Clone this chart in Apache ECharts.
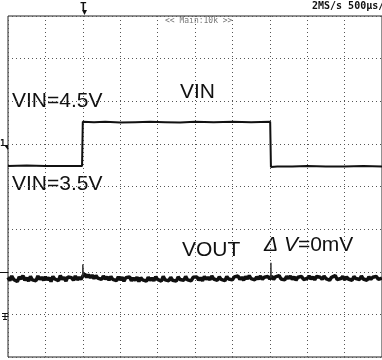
<!DOCTYPE html>
<html>
<head>
<meta charset="utf-8">
<script src="https://cdn.jsdelivr.net/npm/echarts@6/dist/echarts.min.js"></script>
<style>html,body{margin:0;padding:0;background:#fff}#c{width:382px;height:360px}</style>
</head>
<body>
<div id="c"></div>
<script>
// Time axis in divisions (10 div x 500us), vertical in divisions (8 div)
const vinX = [0, 0.5, 1.0, 1.5, 1.98, 2.0, 2.3, 2.6, 3.0, 3.4, 3.8, 4.2, 4.6, 5.0, 5.5, 6.0, 6.5, 7.01, 7.03, 7.2, 7.6, 8.0, 8.5, 9.0, 9.5, 10];
const vinY = [4.48, 4.49, 4.48, 4.48, 4.48, 5.52, 5.51, 5.52, 5.50, 5.51, 5.52, 5.51, 5.50, 5.52, 5.51, 5.52, 5.51, 5.52, 4.46, 4.47, 4.47, 4.48, 4.47, 4.47, 4.48, 4.47];

// VOUT sampled every 0.05 div
const voutStep = 0.05;
const voutY = [
  1.87,1.79,1.90,1.82,1.85,1.77,1.88,1.83,1.91,1.80,1.86,1.78,1.89,1.81,1.84,1.79,1.90,1.82,1.87,1.80,
  1.88,1.81,1.86,1.77,1.89,1.83,1.85,1.79,1.91,1.82,1.87,1.78,1.88,1.84,1.86,1.80,1.90,1.81,1.87,1.82,
  1.90,1.95,1.87,1.93,1.86,1.92,1.84,1.91,1.85,1.89,1.82,1.90,1.83,1.88,1.80,1.89,1.82,1.86,1.79,1.88,
  1.81,1.87,1.78,1.86,1.82,1.88,1.79,1.85,1.80,1.87,1.77,1.86,1.81,1.84,1.78,1.87,1.80,1.85,1.79,1.88,
  1.82,1.86,1.78,1.89,1.81,1.85,1.79,1.87,1.80,1.84,1.78,1.88,1.82,1.86,1.80,1.89,1.81,1.85,1.79,1.87,
  1.83,1.88,1.80,1.86,1.79,1.89,1.82,1.87,1.81,1.90,1.83,1.86,1.80,1.88,1.82,1.85,1.79,1.89,1.83,1.87,
  1.81,1.88,1.84,1.90,1.82,1.87,1.80,1.89,1.83,1.91,1.84,1.86,1.81,1.88,1.83,1.90,1.82,1.87,1.84,1.89,
  1.83,1.90,1.82,1.88,1.85,1.91,1.83,1.87,1.81,1.89,1.84,1.90,1.82,1.88,1.80,1.87,1.83,1.89,1.82,1.86,
  1.84,1.90,1.83,1.88,1.81,1.89,1.85,1.87,1.82,1.90,1.84,1.88,1.80,1.87,1.83,1.91,1.82,1.86,1.84,1.89,
  1.81,1.88,1.83,1.86,1.80,1.89,1.84,1.87,1.82,1.90,1.83,1.85,1.80,1.88,1.82,1.87,1.84,1.89,1.82,1.86,
  1.85];
// Thin glitches at the VIN edges
const spikeX = [1.99, 2.0, 2.02, null, 7.02, 7.03, 7.04];
const spikeY = [1.88, 2.17, 1.92, null, 1.86, 2.21, 1.86];

const labels = {
  vinHigh: 'VIN=4.5V', vinLow: 'VIN=3.5V', vin: 'VIN', vout: 'VOUT',
  header: '2MS/s 500µs/div', zoom: '<< Main:10k >>'
};

const pairs = (xs, ys) => xs.map((x, i) => x === null ? '-' : [x, ys[i]]);
const chart = echarts.init(document.getElementById('c'), null, {renderer: 'canvas'});
const grid = {left: 8, top: 16, width: 375, height: 341, show: true, borderColor: '#222', borderWidth: 1, backgroundColor: 'transparent'};
const dotted = {show: true, lineStyle: {type: [1, 3], color: '#555', width: 1}};
const lbl = {fontFamily: 'Liberation Sans', fontSize: 21, fill: '#111'};
chart.setOption({
  animation: false,
  backgroundColor: '#fff',
  grid: grid,
  xAxis: {type: 'value', min: 0, max: 10, interval: 1, axisLine: {show: false}, axisTick: {show: false}, axisLabel: {show: false}, splitLine: dotted},
  yAxis: {type: 'value', min: 0, max: 8, interval: 1, axisLine: {show: false}, axisTick: {show: false}, axisLabel: {show: false}, splitLine: dotted},
  series: [
    {type: 'line', data: pairs(vinX, vinY), symbol: 'none', lineStyle: {color: '#111', width: 2}},
    {type: 'line', data: voutY.map((v, i) => [i * voutStep, v]), symbol: 'none', lineStyle: {color: '#111', width: 3.5}},
    {type: 'line', data: pairs(spikeX, spikeY), symbol: 'none', connectNulls: false, lineStyle: {color: '#333', width: 1}}
  ],
  graphic: [
    {type: 'text', left: 12, top: 91, style: Object.assign({text: labels.vinHigh}, lbl)},
    {type: 'text', left: 180, top: 82, style: Object.assign({text: labels.vin}, lbl)},
    {type: 'text', left: 12, top: 174, style: Object.assign({text: labels.vinLow}, lbl)},
    {type: 'text', left: 182, top: 240, style: Object.assign({text: labels.vout}, lbl)},
    {type: 'text', left: 264, top: 235, style: {
      text: '{i|Δ V}{n|=0mV}',
      rich: {i: {fontFamily: 'Liberation Sans', fontStyle: 'italic', fontSize: 21, fill: '#111'},
             n: {fontFamily: 'Liberation Sans', fontSize: 21, fill: '#111'}}
    }},
    {type: 'text', x: 312, y: 1, style: {text: labels.header, fontFamily: 'DejaVu Sans Mono', fontSize: 10, fontWeight: 'bold', fill: '#111'}},
    {type: 'text', x: 165, y: 17, style: {text: labels.zoom, fontFamily: 'DejaVu Sans Mono', fontSize: 8, fill: '#777'}},
    {type: 'text', x: 80, y: 2, style: {text: 'T', fontFamily: 'DejaVu Sans Mono', fontSize: 11, fontWeight: 'bold', fill: '#111'}},
    {type: 'polygon', shape: {points: [[82, 10], [87, 10], [84.5, 15]]}, style: {fill: '#111'}},
    {type: 'text', x: 0, y: 139, style: {text: '1', fontFamily: 'DejaVu Sans Mono', fontSize: 9, fontWeight: 'bold', fill: '#111'}},
    {type: 'polygon', shape: {points: [[4, 145], [8, 145], [8, 150]]}, style: {fill: '#111'}},
    {type: 'line', shape: {x1: 0, y1: 272.5, x2: 8, y2: 272.5}, style: {stroke: '#111', lineWidth: 1}},
    {type: 'line', shape: {x1: 2, y1: 313.5, x2: 8, y2: 313.5}, style: {stroke: '#111', lineWidth: 1}},
    {type: 'line', shape: {x1: 5, y1: 313, x2: 5, y2: 319}, style: {stroke: '#111', lineWidth: 1}},
    {type: 'line', shape: {x1: 2, y1: 316.5, x2: 8, y2: 316.5}, style: {stroke: '#111', lineWidth: 1}},
    {type: 'line', shape: {x1: 3, y1: 319.5, x2: 7, y2: 319.5}, style: {stroke: '#111', lineWidth: 1}}
  ]
});
</script>
</body>
</html>
